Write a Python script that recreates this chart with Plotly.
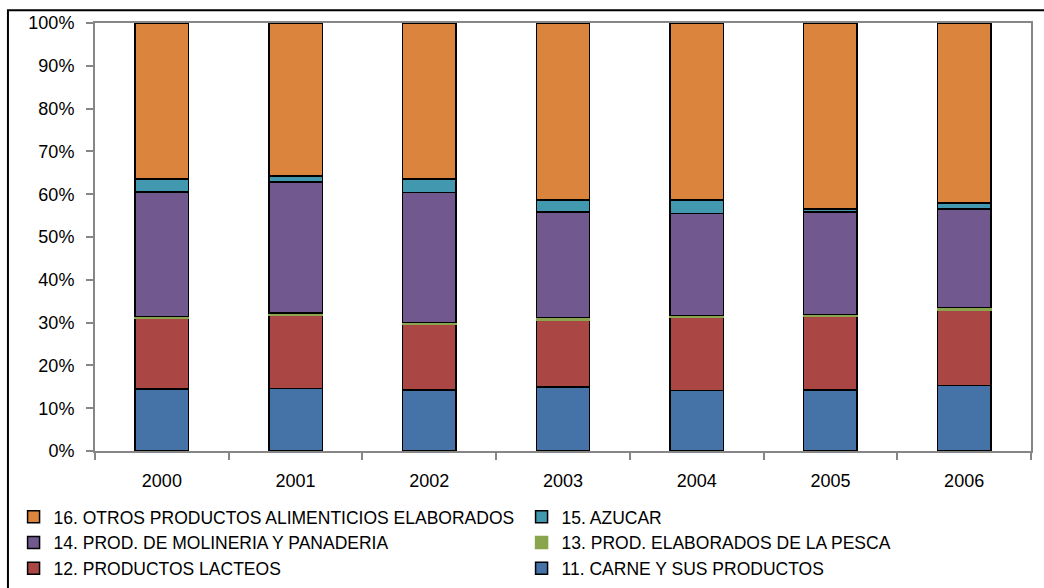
import plotly.graph_objects as go

years = ["2000", "2001", "2002", "2003", "2004", "2005", "2006"]

carne = [14.5, 14.65, 14.25, 15.0, 14.1, 14.25, 15.25]
lacteos = [16.45, 17.05, 15.25, 15.6, 17.2, 17.25, 17.55]
pesca = [0.5, 0.6, 0.55, 0.6, 0.4, 0.4, 0.7]
molineria = [29.1, 30.6, 30.3, 24.7, 23.8, 24.0, 23.0]
azucar = [2.95, 1.4, 3.2, 2.7, 3.1, 0.6, 1.4]
otros = [36.5, 35.7, 36.45, 41.4, 41.4, 43.5, 42.1]

y_ticks = [0, 10, 20, 30, 40, 50, 60, 70, 80, 90, 100]
y_ticktext = [f"{v}%" for v in y_ticks]

series = [
    ("11. CARNE Y SUS PRODUCTOS", carne, "#4572A7", "#000000"),
    ("12. PRODUCTOS LACTEOS", lacteos, "#AA4643", "#000000"),
    ("13. PROD. ELABORADOS DE LA PESCA", pesca, "#89A54E", "#89A54E"),
    ("14. PROD. DE MOLINERIA Y PANADERIA", molineria, "#71588F", "#000000"),
    ("15. AZUCAR", azucar, "#4198AF", "#000000"),
    ("16. OTROS PRODUCTOS ALIMENTICIOS ELABORADOS", otros, "#DB843D", "#000000"),
]

fig = go.Figure()
for name, vals, color, lc in series:
    fig.add_trace(go.Bar(
        x=years, y=vals, name=name,
        marker=dict(color=color, line=dict(color=lc, width=1.5)),
        width=0.4,
    ))

FONT = "Liberation Sans, Arial, sans-serif"
fig.update_layout(
    width=1044, height=588,
    barmode="stack",
    paper_bgcolor="white", plot_bgcolor="white",
    margin=dict(l=95, r=13, t=23, b=137, autoexpand=False),
    font=dict(family=FONT, size=18, color="#000000"),
    showlegend=True,
    legend=dict(
        orientation="h", traceorder="reversed",
        x=-0.087, xanchor="left", y=-0.112, yanchor="top",
        entrywidth=463, entrywidthmode="pixels",
        font=dict(family=FONT, size=17.5, color="#000000"),
        bgcolor="rgba(0,0,0,0)",
    ),
    xaxis=dict(
        type="category", showline=True, linecolor="#868686", linewidth=2,
        mirror=True, ticks="outside", tickson="boundaries", ticklen=7,
        tickcolor="#868686", tickwidth=2, showgrid=False, automargin=False,
        ticklabelstandoff=12,
        tickfont=dict(family=FONT, size=18, color="#000000"),
    ),
    yaxis=dict(
        range=[0, 100], tickmode="array", tickvals=y_ticks, ticktext=y_ticktext,
        showline=True, linecolor="#868686", linewidth=2,
        mirror=True, ticks="outside", ticklen=7, tickcolor="#868686", tickwidth=2,
        showgrid=False, zeroline=False, automargin=False,
        ticklabelstandoff=8,
        tickfont=dict(family=FONT, size=18, color="#000000"),
    ),
    shapes=[dict(
        type="rect", xref="paper", yref="paper",
        x0=-0.093, x1=1.2, y0=-0.6, y1=1.03,
        line=dict(color="#000000", width=2), fillcolor="rgba(0,0,0,0)",
        layer="below",
    )],
)

fig.write_html("out.html", config={"displayModeBar": False},
               post_script="document.body.style.margin='0px';")
